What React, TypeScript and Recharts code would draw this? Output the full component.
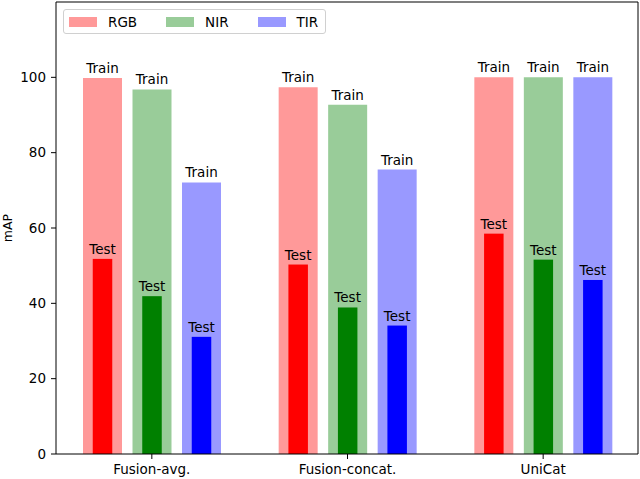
import { Bar, BarChart, LabelList, Legend, ReferenceLine, XAxis, YAxis } from 'recharts';

const categories = ['Fusion-avg.', 'Fusion-concat.', 'UniCat'];
const trainRGB = [99.8, 97.4, 100];
const trainNIR = [96.8, 92.7, 100];
const trainTIR = [72.1, 75.5, 100];
const testRGB = [51.8, 50.3, 58.5];
const testNIR = [41.9, 38.9, 51.6];
const testTIR = [31.1, 34.1, 46.2];
const yTicks = [0, 20, 40, 60, 80, 100];
const legendOrder = ['RGB', 'NIR', 'TIR'];

const data = categories.map((name, i) => ({
  name,
  trainRGB: trainRGB[i],
  trainNIR: trainNIR[i],
  trainTIR: trainTIR[i],
  testRGB: testRGB[i],
  testNIR: testNIR[i],
  testTIR: testTIR[i],
}));

const font = 'DejaVu Sans, sans-serif';

// test bars sit inside the train bars, half as wide
const NarrowBar = (props: any) => {
  const { x, y, width, height, fill } = props;
  return <rect x={x + width / 4} y={y} width={width / 2} height={height} fill={fill} />;
};

const LegendBox = ({ payload }: any) => {
  const items = legendOrder
    .map((n) => (payload || []).find((p: any) => p.value === n))
    .filter(Boolean);
  return (
    <div
      style={{
        display: 'flex',
        alignItems: 'center',
        height: 23,
        padding: '0 7px 0 5px',
        border: '1px solid #d0d0d0',
        borderRadius: 3,
        background: 'rgba(255,255,255,0.8)',
        fontFamily: font,
        fontSize: 13.5,
        color: '#000',
      }}
    >
      {items.map((p: any, i: number) => (
        <div key={p.value} style={{ display: 'flex', alignItems: 'center', marginLeft: i ? 29 : 0 }}>
          <span style={{ width: 28, height: 10, background: p.color, marginRight: 11 }} />
          <span>{p.value}</span>
        </div>
      ))}
    </div>
  );
};

export default function App() {
  const tickStyle = { fontFamily: font, fontSize: 13.5, fill: '#000' };
  const labelStyle = { fontFamily: font, fontSize: 13.5, fill: '#000' };
  return (
    <div style={{ position: 'absolute', left: 0, top: 0 }}>
      <BarChart
        width={640}
        height={479}
        data={data}
        margin={{ top: 2, right: 1, left: 0, bottom: 0 }}
        barSize={39}
        barGap={10.5}
      >
        <XAxis
          xAxisId="bottom"
          dataKey="name"
          height={25}
          padding={{ left: -2, right: -3 }}
          tick={tickStyle}
          tickSize={5}
          tickMargin={5}
          stroke="#000"
          interval={0}
        />
        <XAxis
          xAxisId="top"
          dataKey="name"
          orientation="top"
          height={0}
          padding={{ left: -2, right: -3 }}
          tick={false}
          tickLine={false}
          axisLine={false}
        />
        <YAxis
          yAxisId="left"
          width={56}
          domain={[0, 120]}
          ticks={yTicks}
          tick={tickStyle}
          tickSize={5}
          tickMargin={5}
          stroke="#000"
          label={({ viewBox }: any) => (
            <text
              x={12}
              y={viewBox.y + viewBox.height / 2}
              transform={`rotate(-90, 12, ${viewBox.y + viewBox.height / 2})`}
              textAnchor="middle"
              style={{ fontFamily: font, fontSize: 12.5 }}
            >
              mAP
            </text>
          )}
        />
        <YAxis
          yAxisId="right"
          orientation="right"
          width={1}
          domain={[0, 120]}
          tick={false}
          tickLine={false}
          stroke="#000"
        />
        <ReferenceLine xAxisId="bottom" yAxisId="left" y={120} stroke="#000" strokeWidth={1.2} />
        <Legend
          layout="vertical"
          align="center"
          verticalAlign="middle"
          wrapperStyle={{ top: 9, left: 63, width: 'auto' }}
          content={<LegendBox />}
        />
        <Bar xAxisId="bottom" yAxisId="left" dataKey="trainRGB" name="RGB" fill="#ff9999" isAnimationActive={false}>
          <LabelList position="top" valueAccessor={() => 'Train'} style={labelStyle} />
        </Bar>
        <Bar xAxisId="bottom" yAxisId="left" dataKey="trainNIR" name="NIR" fill="#99cc99" isAnimationActive={false}>
          <LabelList position="top" valueAccessor={() => 'Train'} style={labelStyle} />
        </Bar>
        <Bar xAxisId="bottom" yAxisId="left" dataKey="trainTIR" name="TIR" fill="#9999ff" isAnimationActive={false}>
          <LabelList position="top" valueAccessor={() => 'Train'} style={labelStyle} />
        </Bar>
        <Bar xAxisId="top" yAxisId="right" dataKey="testRGB" fill="#ff0000" legendType="none" shape={<NarrowBar />} isAnimationActive={false}>
          <LabelList position="top" valueAccessor={() => 'Test'} style={labelStyle} />
        </Bar>
        <Bar xAxisId="top" yAxisId="right" dataKey="testNIR" fill="#008000" legendType="none" shape={<NarrowBar />} isAnimationActive={false}>
          <LabelList position="top" valueAccessor={() => 'Test'} style={labelStyle} />
        </Bar>
        <Bar xAxisId="top" yAxisId="right" dataKey="testTIR" fill="#0000ff" legendType="none" shape={<NarrowBar />} isAnimationActive={false}>
          <LabelList position="top" valueAccessor={() => 'Test'} style={labelStyle} />
        </Bar>
      </BarChart>
    </div>
  );
}
